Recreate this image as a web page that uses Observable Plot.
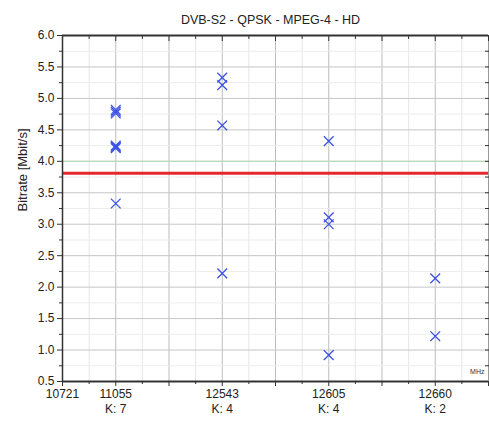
<!DOCTYPE html>
<html>
<head>
<meta charset="utf-8">
<script src="https://cdn.jsdelivr.net/npm/d3@7"></script>
<script src="https://cdn.jsdelivr.net/npm/@observablehq/plot@0.6"></script>
<style>
  html, body { margin: 0; padding: 0; background: #fff; }
</style>
</head>
<body>
<div id="chart"></div>
<script>
const title = "DVB-S2 - QPSK - MPEG-4 - HD";
const yLabel = "Bitrate [Mbit/s]";
const unitLabel = "MHz";

// x categories (frequencies) placed on a linear index axis
const freqLabels = ["10721", "11055", "12543", "12605", "12660"];
const freqPos    = [0, 1, 3, 5, 7];
const countLabels = ["", "K: 7", "K: 4", "K: 4", "K: 2"];

// measured points
const pointPos  = [1, 1, 1, 1, 1, 1, 1,   3, 3, 3, 3,   5, 5, 5, 5,   7, 7];
const bitrates  = [4.82, 4.79, 4.76, 4.25, 4.23, 4.21, 3.33,
                   5.33, 5.21, 4.57, 2.22,
                   4.32, 3.11, 3.00, 0.92,
                   2.14, 1.22];

const limitLine = [3.81];
const refLine = [4.0];

const yMajor = [0.5, 1.0, 1.5, 2.0, 2.5, 3.0, 3.5, 4.0, 4.5, 5.0, 5.5, 6.0];
const yMinor = [0.75, 1.25, 1.75, 2.25, 2.75, 3.25, 3.75, 4.25, 4.75, 5.25, 5.75];
const xMajor = [0, 1, 2, 3, 4, 5, 6, 7, 8];
const xMinor = [0.5, 1.5, 2.5, 3.5, 4.5, 5.5, 6.5, 7.5];

const font = "'Liberation Sans', Arial, sans-serif";

const chart = Plot.plot({
  width: 489,
  height: 423,
  marginTop: 35,
  marginBottom: 42,
  marginLeft: 62,
  marginRight: 1,
  style: { fontFamily: font, fontSize: "12px", background: "#fff", color: "#222" },
  x: { domain: [0, 8], axis: null },
  y: { domain: [0.5, 6], axis: null },
  marks: [
    Plot.gridX(xMinor, { stroke: "#e6e6e6", strokeOpacity: 1 }),
    Plot.gridX(xMajor, { stroke: "#bcbcbc", strokeOpacity: 1 }),
    Plot.gridY(yMinor, { stroke: "#ececec", strokeOpacity: 1 }),
    Plot.gridY(yMajor, { stroke: "#c6c6c6", strokeOpacity: 1 }),
    Plot.ruleY(refLine, { stroke: "#b5dcb5", strokeWidth: 1.2 }),
    Plot.ruleY(limitLine, { stroke: "#e5282e", strokeWidth: 3 }),
    // frame
    Plot.ruleY([6], { stroke: "#333", strokeWidth: 2 }),
    Plot.ruleY([0.5], { stroke: "#333", strokeWidth: 2 }),
    Plot.ruleX([0], { stroke: "#333", strokeWidth: 1.5 }),
    Plot.ruleX([8], { stroke: "#999", strokeWidth: 1 }),
    // axes
    Plot.axisY({ anchor: "left", ticks: yMajor, tickSize: 5, tickPadding: 3, tickFormat: d => d.toFixed(1), label: null, fontSize: 12, stroke: "#333", fill: "#222" }),
    Plot.axisY({ anchor: "left", ticks: yMinor, tickSize: 3, tickFormat: () => "", label: null, stroke: "#333" }),
    Plot.axisY({ anchor: "right", ticks: yMinor.concat(yMajor), tickSize: -4, tickFormat: () => "", label: null, stroke: "#333" }),
    Plot.axisX({ anchor: "bottom", ticks: xMajor, tickSize: 5, tickFormat: () => "", label: null, stroke: "#333" }),
    Plot.axisX({ anchor: "bottom", ticks: xMinor, tickSize: 3, tickFormat: () => "", label: null, stroke: "#333" }),
    Plot.axisX({ anchor: "top", ticks: xMajor, tickSize: -5, tickFormat: () => "", label: null, stroke: "#333" }),
    Plot.axisX({ anchor: "top", ticks: xMinor, tickSize: -3, tickFormat: () => "", label: null, stroke: "#333" }),
    // x labels
    Plot.text(freqLabels, { x: freqPos, text: freqLabels, frameAnchor: "bottom", dy: 16, fontSize: 12, fill: "#222" }),
    Plot.text(countLabels, { x: freqPos, text: countLabels, frameAnchor: "bottom", dy: 31, fontSize: 12, fill: "#222" }),
    Plot.text([unitLabel], { frameAnchor: "bottom-right", dx: -4, dy: -8, fontSize: 7, textAnchor: "end", fill: "#333" }),
    // title and y label
    Plot.text([title], { frameAnchor: "top", dx: -5, dy: -20, fontSize: 12.5, fill: "#222" }),
    Plot.text([yLabel], { frameAnchor: "left", dx: -40, dy: 3, rotate: -90, fontSize: 13, fill: "#222" }),
    // data
    Plot.dot(bitrates, { x: pointPos, y: bitrates, symbol: "times", r: 4.5, stroke: "#3c52e6", strokeWidth: 1.3 })
  ]
});
document.getElementById("chart").append(chart);
</script>
</body>
</html>
